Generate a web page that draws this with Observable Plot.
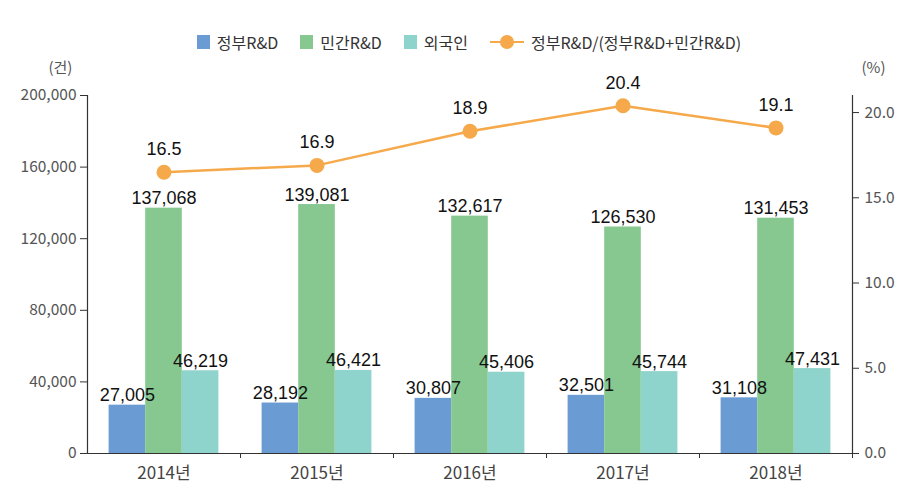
<!DOCTYPE html>
<html><head><meta charset="utf-8">
<script src="https://cdn.jsdelivr.net/npm/d3@7"></script>
<script src="https://cdn.jsdelivr.net/npm/@observablehq/plot@0.6"></script>
<style>
body{margin:0;background:#fff;font-family:"Noto Sans CJK KR","Noto Sans",sans-serif;}
#legend{height:52px;box-sizing:border-box;padding-top:31px;padding-left:28px;display:flex;justify-content:center;align-items:center;font-size:16px;color:#333;line-height:22px;}
.item{display:flex;align-items:center;margin:0 11px;}
.sw{width:13px;height:14px;margin-right:7px;}
.ln{position:relative;width:34px;height:14px;margin-right:7px;}
.ln .bar{position:absolute;left:0;right:0;top:6px;height:2.5px;}
.ln .dt{position:absolute;left:10px;top:0;width:14px;height:14px;border-radius:50%;}
#chart svg{display:block;}
</style></head><body>
<div id="legend"></div><div id="chart"></div>
<script>
const years = ["2014년","2015년","2016년","2017년","2018년"];
const series = ["정부R&D","민간R&D","외국인"];
const govRD = [27005, 28192, 30807, 32501, 31108];
const privRD = [137068, 139081, 132617, 126530, 131453];
const foreignRD = [46219, 46421, 45406, 45744, 47431];
const govShare = [16.5, 16.9, 18.9, 20.4, 19.1];
const lineName = "정부R&D/(정부R&D+민간R&D)";
const leftTicks = [0, 40000, 80000, 120000, 160000, 200000];
const rightTicks = [0, 5, 10, 15, 20];
const leftMax = 200000, rightMax = 21;
const leftUnit = "(건)", rightUnit = "(%)";

const colors = ["#6b9bd3", "#86c890", "#8fd4cc"];
const lineColor = "#f5a94a";

const W = 910, H = 449, mL = 87, mR = 58, mT = 43, mB = 48;
const bw = (W - mL - mR) / years.length;
const barW = 36.6;
const off = (bw - 3 * barW) / 2;
const k = leftMax / rightMax;

const valuesBySeries = [govRD, privRD, foreignRD];
const rows = [];
years.forEach((y, i) => series.forEach((s, j) => rows.push({year: y, series: s, j, value: valuesBySeries[j][i]})));
const lineRows = years.map((y, i) => ({year: y, pct: govShare[i], v: govShare[i] * k}));

// legend
const lg = document.getElementById("legend");
series.forEach((s, j) => {
  const it = document.createElement("div"); it.className = "item";
  it.innerHTML = `<div class="sw" style="background:${colors[j]}"></div><span></span>`;
  it.querySelector("span").textContent = s;
  lg.appendChild(it);
});
{
  const it = document.createElement("div"); it.className = "item";
  it.innerHTML = `<div class="ln"><div class="bar" style="background:${lineColor}"></div><div class="dt" style="background:${lineColor}"></div></div><span></span>`;
  it.querySelector("span").textContent = lineName;
  lg.appendChild(it);
}

const numFont = "'Liberation Sans', Arial, sans-serif";
const fmt = d3.format(",");

const marks = [];
series.forEach((s, j) => {
  const data = rows.filter(r => r.j === j);
  marks.push(Plot.barY(data, {x: "year", y: "value", fill: colors[j],
    insetLeft: off + j * barW, insetRight: bw - off - (j + 1) * barW}));
});
marks.push(Plot.ruleY([0], {stroke: "#333", strokeWidth: 1.2}));
marks.push(Plot.frame({anchor: "left", stroke: "#333", strokeWidth: 1.2}));
marks.push(Plot.frame({anchor: "right", stroke: "#333", strokeWidth: 1.2}));
series.forEach((s, j) => {
  const data = rows.filter(r => r.j === j);
  marks.push(Plot.text(data, {x: "year", y: "value", text: d => fmt(d.value), dx: (j - 1) * barW, dy: -4,
    lineAnchor: "bottom", fontSize: 18, fill: "#111", fontFamily: numFont, letterSpacing: "-0.6px"}));
});
marks.push(Plot.line(lineRows, {x: "year", y: "v", stroke: lineColor, strokeWidth: 2.5}));
marks.push(Plot.dot(lineRows, {x: "year", y: "v", r: 7.5, fill: lineColor}));
marks.push(Plot.text(lineRows, {x: "year", y: "v", text: d => d.pct.toFixed(1), dy: -17,
  lineAnchor: "bottom", fontSize: 18, fill: "#111", fontFamily: numFont, letterSpacing: "-0.6px"}));
marks.push(Plot.axisY({anchor: "left", ticks: leftTicks, tickFormat: d => fmt(d), tickSize: 7, tickPadding: 4,
  label: null, fontSize: 15.5, fill: "#555", stroke: "#333"}));
marks.push(Plot.axisY({anchor: "right", ticks: rightTicks.map(v => v * k), tickFormat: d => (d / k).toFixed(1),
  tickSize: 6, tickPadding: 6, label: null, fontSize: 15.5, fill: "#555", stroke: "#333"}));
marks.push(Plot.text([leftUnit], {frameAnchor: "top-left", text: d => d, dx: -39, dy: -33,
  textAnchor: "start", fontSize: 15, fill: "#555"}));
marks.push(Plot.text([rightUnit], {frameAnchor: "top-right", text: d => d, dx: 33, dy: -33,
  textAnchor: "end", fontSize: 15, fill: "#555"}));
marks.push(Plot.axisX({tickSize: 0, tickPadding: 13, label: null, fontSize: 17, fill: "#444"}));
marks.push(Plot.axisX({tickSize: 5, tickFormat: () => "", label: null, dx: bw / 2, stroke: "#333"}));

const chart = Plot.plot({
  width: W, height: H, marginLeft: mL, marginRight: mR, marginTop: mT, marginBottom: mB,
  style: {fontFamily: "'Noto Sans CJK KR', sans-serif", fontSize: "15px", background: "#fff", color: "#555"},
  x: {domain: years, padding: 0},
  y: {domain: [0, leftMax], range: [H - mB, mT]},
  marks
});
document.getElementById("chart").appendChild(chart);
</script>
</body></html>
